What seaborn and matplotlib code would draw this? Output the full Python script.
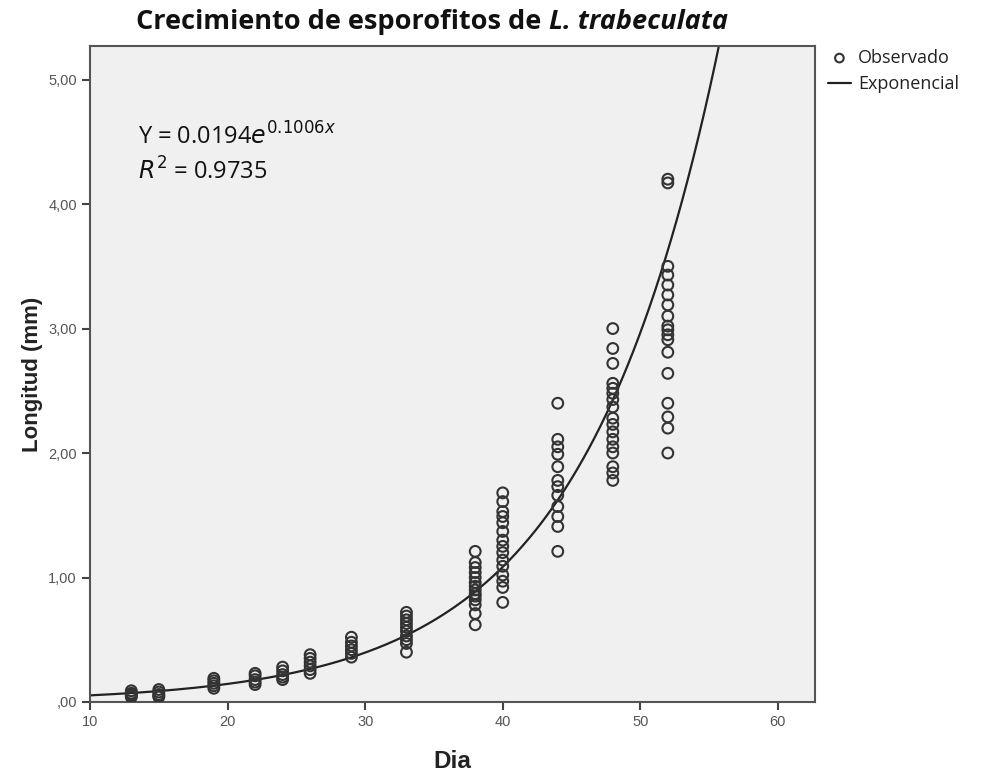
import numpy as np
import pandas as pd
import matplotlib
matplotlib.use("Agg")
import matplotlib.pyplot as plt
from matplotlib.ticker import FuncFormatter
import seaborn as sns

# ---- data ----
days = [13, 15, 19, 22, 24, 26, 29, 33, 38, 40, 44, 48, 52]
len_d13 = [0.09, 0.07, 0.06, 0.05, 0.04]
len_d15 = [0.10, 0.08, 0.06, 0.05, 0.04]
len_d19 = [0.19, 0.17, 0.15, 0.13, 0.11]
len_d22 = [0.23, 0.21, 0.18, 0.16, 0.14]
len_d24 = [0.28, 0.25, 0.22, 0.20, 0.18]
len_d26 = [0.38, 0.35, 0.32, 0.29, 0.26, 0.23]
len_d29 = [0.52, 0.48, 0.45, 0.42, 0.39, 0.36]
len_d33 = [0.72, 0.69, 0.66, 0.63, 0.60, 0.57, 0.53, 0.50, 0.47, 0.40]
len_d38 = [1.21, 1.12, 1.08, 1.04, 1.00, 0.96, 0.93, 0.90, 0.87, 0.85, 0.82, 0.78, 0.71, 0.62]
len_d40 = [1.68, 1.61, 1.53, 1.49, 1.44, 1.37, 1.30, 1.25, 1.20, 1.14, 1.09, 1.02, 0.97, 0.92, 0.80]
len_d44 = [2.40, 2.11, 2.05, 1.99, 1.89, 1.78, 1.73, 1.66, 1.57, 1.49, 1.41, 1.21]
len_d48 = [3.00, 2.84, 2.72, 2.56, 2.52, 2.48, 2.43, 2.37, 2.28, 2.23, 2.17, 2.11,
           2.05, 2.00, 1.89, 1.84, 1.78]
len_d52 = [4.20, 4.17, 3.50, 3.43, 3.35, 3.27, 3.19, 3.10, 3.02, 2.99, 2.95, 2.91,
           2.81, 2.64, 2.40, 2.29, 2.20, 2.00]
lengths = [len_d13, len_d15, len_d19, len_d22, len_d24, len_d26, len_d29,
           len_d33, len_d38, len_d40, len_d44, len_d48, len_d52]

fit_a = 0.0194
fit_b = 0.1006
x_ticks = [10, 20, 30, 40, 50, 60]
y_ticks = [0, 1, 2, 3, 4, 5]

obs = pd.DataFrame({
    "Dia": [d for d, vals in zip(days, lengths) for _ in vals],
    "Longitud": [v for vals in lengths for v in vals],
})
curve_x = np.linspace(10, 63, 400)
curve = pd.DataFrame({"Dia": curve_x, "Longitud": fit_a * np.exp(fit_b * curve_x)})

# ---- figure ----
sns.set_style("ticks")
plt.rcParams['font.family'] = ['Liberation Sans', 'DejaVu Sans']

fig = plt.figure(figsize=(9.86, 7.76), dpi=100)
ax = fig.add_axes([0.0913, 0.0954, 0.7353, 0.8453])
ax.set_facecolor("#f0f0f0")

sns.lineplot(data=curve, x="Dia", y="Longitud", ax=ax, color="#222222",
             linewidth=1.6, label="Exponencial", zorder=2)
sns.scatterplot(data=obs, x="Dia", y="Longitud", ax=ax, marker="o",
                s=60, facecolor="none", edgecolor="#333333", linewidth=1.5,
                label="Observado", zorder=3)

ax.set_xlim(10, 62.7)
ax.set_ylim(0, 5.27)
ax.set_xticks(x_ticks)
ax.set_yticks(y_ticks)

def yfmt(v, pos):
    s = f"{v:.2f}".replace(".", ",")
    if s.startswith("0,"):
        s = s[1:]
    return s

ax.yaxis.set_major_formatter(FuncFormatter(yfmt))
ax.tick_params(axis="both", direction="out", length=6, width=1.5,
               color="#444444", labelcolor="#555555", labelsize=10.5)
for sp in ax.spines.values():
    sp.set_visible(True)
    sp.set_color("#555555")
    sp.set_linewidth(1.5)

ax.set_xlabel("Dia", fontsize=17.5, fontweight="bold", color="#222222", labelpad=15)
ax.set_ylabel("Longitud (mm)", fontsize=16, fontweight="bold", color="#222222", labelpad=4)

# title: bold part + bold-italic part
fig.canvas.draw()
renderer = fig.canvas.get_renderer()
tfont = dict(fontsize=19.5, fontweight="bold", family=["Open Sans", "DejaVu Sans"],
             color="#111111", va="center")
t1 = fig.text(0, 0.972, "Crecimiento de esporofitos de ", ha="left", **tfont)
t2 = fig.text(0, 0.972, "L. trabeculata", ha="left", style="italic", **tfont)
w1 = t1.get_window_extent(renderer).width
w2 = t2.get_window_extent(renderer).width
start = 432 - (w1 + w2) / 2
t1.set_x(start / fig.bbox.width)
t2.set_x((start + w1) / fig.bbox.width)

ax.text(0.066, 0.862, r"Y = 0.0194$e^{0.1006x}$", transform=ax.transAxes,
        fontsize=17, color="#111111", family=["Open Sans", "DejaVu Sans"],
        va="center", ha="left")
ax.text(0.066, 0.8085, r"$R^2$ = 0.9735", transform=ax.transAxes,
        fontsize=17, color="#111111", family=["Open Sans", "DejaVu Sans"],
        va="center", ha="left")

h, l = ax.get_legend_handles_labels()
order = [l.index("Observado"), l.index("Exponencial")]
leg = ax.legend([h[i] for i in order], [l[i] for i in order],
                loc="upper left", bbox_to_anchor=(1.0, 1.015), frameon=False,
                prop={"family": ["Open Sans", "DejaVu Sans"], "size": 13},
                handlelength=1.3, handletextpad=0.4, markerscale=0.8,
                labelspacing=0.45, borderaxespad=0.3)
for t in leg.get_texts():
    t.set_color("#222222")

fig.savefig("out.png", dpi=100)
